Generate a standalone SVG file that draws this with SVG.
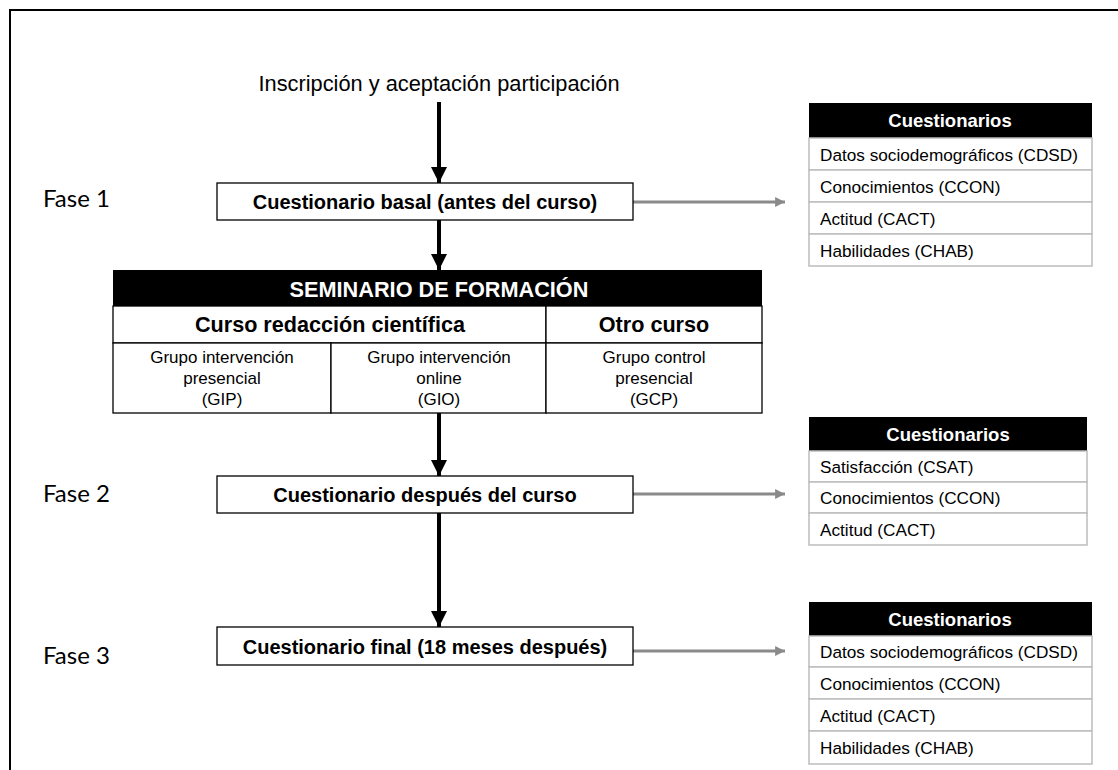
<svg xmlns="http://www.w3.org/2000/svg" width="1118" height="770" viewBox="0 0 1118 770">
<defs>
<style>
.t{font-family:"Liberation Sans",Arial,sans-serif;fill:#000}
.b{font-weight:bold}
.fase{font-family:Lato,"Open Sans",sans-serif;font-size:24px;fill:#000}
.box{fill:#fff;stroke:#000;stroke-width:1.3}
.hdr{fill:#000}
.cell{fill:#fff;stroke:#bdbdbd;stroke-width:1.5}
.row{font-family:"Liberation Sans",Arial,sans-serif;font-size:17.2px;fill:#000}
.th{font-family:"Liberation Sans",Arial,sans-serif;font-size:18.5px;font-weight:bold;fill:#fff}
.main{stroke:#000;stroke-width:4;fill:none}
.side{stroke:#8a8a8a;stroke-width:3;fill:none}
</style>
<marker id="ah" viewBox="0 0 10 10" refX="10" refY="5" markerWidth="4" markerHeight="4" markerUnits="strokeWidth" orient="auto"><path d="M0,0 L10,5 L0,10 z" fill="#000"/></marker>
<marker id="ag" viewBox="0 0 10 10" refX="10" refY="5" markerWidth="3.3" markerHeight="3.3" markerUnits="strokeWidth" orient="auto"><path d="M0,0 L10,5 L0,10 z" fill="#8a8a8a"/></marker>
</defs>
<rect width="1118" height="770" fill="#fff"/>
<rect x="10" y="10" width="1130" height="790" fill="none" stroke="#000" stroke-width="2"/>

<g id="connectors">
<line class="main" x1="439" y1="102" x2="439" y2="183" marker-end="url(#ah)"/>
<line class="main" x1="439" y1="220" x2="439" y2="270" marker-end="url(#ah)"/>
<line class="main" x1="439" y1="413" x2="439" y2="476" marker-end="url(#ah)"/>
<line class="main" x1="439" y1="513" x2="439" y2="627" marker-end="url(#ah)"/>
<line class="side" x1="633" y1="202" x2="785" y2="202" marker-end="url(#ag)"/>
<line class="side" x1="633" y1="494" x2="785" y2="494" marker-end="url(#ag)"/>
<line class="side" x1="633" y1="651" x2="785" y2="651" marker-end="url(#ag)"/>
</g>

<g id="inscripcion">
<text class="t" x="439" y="91" font-size="21.8" text-anchor="middle">Inscripción y aceptación participación</text>
</g>

<g id="fase1"><text class="fase" x="43" y="207">Fase 1</text></g>
<g id="fase2"><text class="fase" x="43" y="502">Fase 2</text></g>
<g id="fase3"><text class="fase" x="43" y="664">Fase 3</text></g>

<g id="cuestionario-basal">
<rect class="box" x="217" y="183" width="416" height="37"/>
<text class="t b" x="425" y="209" font-size="20" text-anchor="middle">Cuestionario basal (antes del curso)</text>
</g>

<g id="seminario">
<rect class="hdr" x="113" y="270" width="649" height="36"/>
<text class="t b" x="439" y="297" font-size="21.7" text-anchor="middle" style="fill:#fff">SEMINARIO DE FORMACIÓN</text>
<rect class="box" x="113" y="306" width="433" height="37"/>
<rect class="box" x="546" y="306" width="216" height="37"/>
<text class="t b" x="330" y="332" font-size="21.6" text-anchor="middle">Curso redacción científica</text>
<text class="t b" x="654" y="332" font-size="21.6" text-anchor="middle">Otro curso</text>
<rect class="box" x="113" y="343" width="218" height="70"/>
<rect class="box" x="331" y="343" width="215" height="70"/>
<rect class="box" x="546" y="343" width="216" height="70"/>
<g class="t" font-size="17" text-anchor="middle">
<text x="222" y="363">Grupo intervención</text>
<text x="222" y="384">presencial</text>
<text x="222" y="405">(GIP)</text>
<text x="439" y="363">Grupo intervención</text>
<text x="439" y="384">online</text>
<text x="439" y="405">(GIO)</text>
<text x="654" y="363">Grupo control</text>
<text x="654" y="384">presencial</text>
<text x="654" y="405">(GCP)</text>
</g>
</g>

<g id="cuestionario-despues">
<rect class="box" x="217" y="476" width="416" height="37"/>
<text class="t b" x="425" y="502" font-size="20" text-anchor="middle">Cuestionario después del curso</text>
</g>

<g id="cuestionario-final">
<rect class="box" x="217" y="627" width="416" height="38"/>
<text class="t b" x="425" y="654" font-size="20" text-anchor="middle">Cuestionario final (18 meses después)</text>
</g>

<g id="tabla1">
<rect class="hdr" x="809" y="103" width="283" height="35"/>
<text class="th" x="950" y="127" text-anchor="middle">Cuestionarios</text>
<rect class="cell" x="809" y="138" width="283" height="32"/>
<rect class="cell" x="809" y="170" width="283" height="32"/>
<rect class="cell" x="809" y="202" width="283" height="32"/>
<rect class="cell" x="809" y="234" width="283" height="32"/>
<text class="row" x="820" y="161">Datos sociodemográficos (CDSD)</text>
<text class="row" x="820" y="193">Conocimientos (CCON)</text>
<text class="row" x="820" y="225">Actitud (CACT)</text>
<text class="row" x="820" y="257">Habilidades (CHAB)</text>
</g>

<g id="tabla2">
<rect class="hdr" x="809" y="417" width="278" height="34"/>
<text class="th" x="948" y="441" text-anchor="middle">Cuestionarios</text>
<rect class="cell" x="809" y="451" width="278" height="31"/>
<rect class="cell" x="809" y="482" width="278" height="31"/>
<rect class="cell" x="809" y="513" width="278" height="32"/>
<text class="row" x="820" y="473">Satisfacción (CSAT)</text>
<text class="row" x="820" y="504">Conocimientos (CCON)</text>
<text class="row" x="820" y="536">Actitud (CACT)</text>
</g>

<g id="tabla3">
<rect class="hdr" x="809" y="602" width="283" height="34"/>
<text class="th" x="950" y="626" text-anchor="middle">Cuestionarios</text>
<rect class="cell" x="809" y="636" width="283" height="31"/>
<rect class="cell" x="809" y="667" width="283" height="32"/>
<rect class="cell" x="809" y="699" width="283" height="32"/>
<rect class="cell" x="809" y="731" width="283" height="33"/>
<text class="row" x="820" y="658">Datos sociodemográficos (CDSD)</text>
<text class="row" x="820" y="690">Conocimientos (CCON)</text>
<text class="row" x="820" y="722">Actitud (CACT)</text>
<text class="row" x="820" y="754">Habilidades (CHAB)</text>
</g>
</svg>
